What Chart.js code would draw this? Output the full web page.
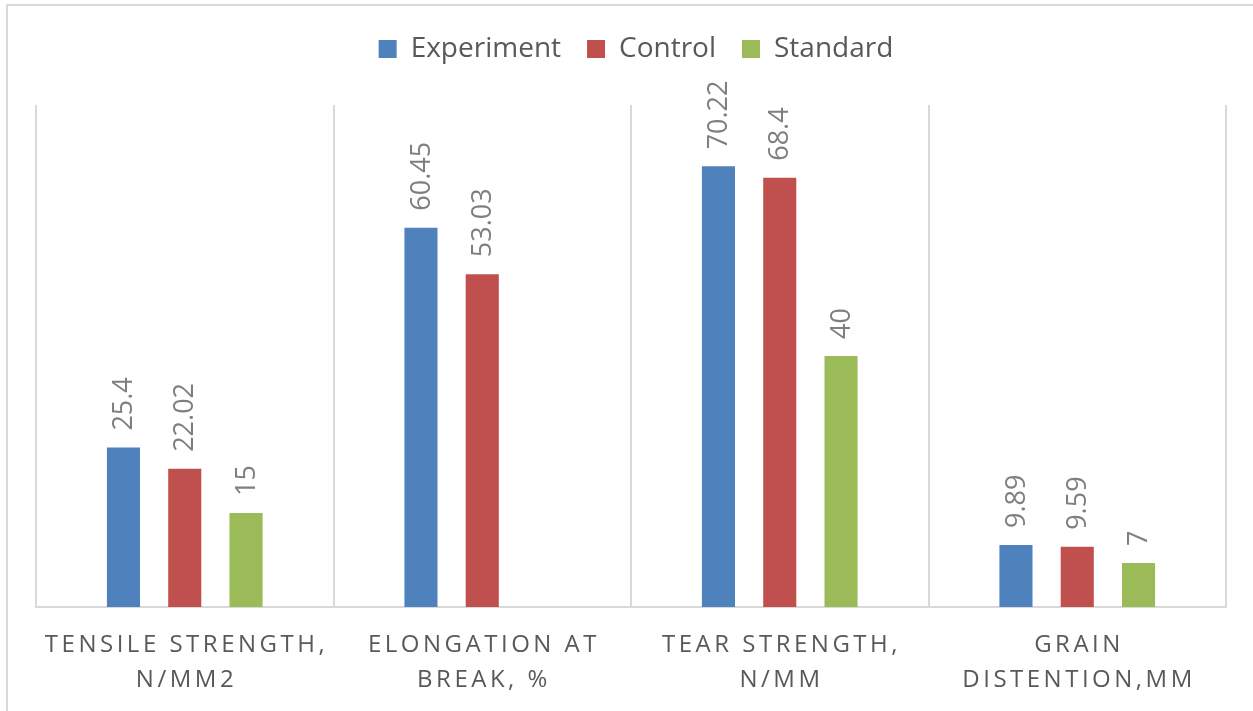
<!DOCTYPE html>
<html>
<head>
<meta charset="utf-8">
<script src="https://cdn.jsdelivr.net/npm/chart.js@4.4.0/dist/chart.umd.min.js"></script>
<style>
  html, body { margin: 0; padding: 0; background: #ffffff; }
  #wrap { width: 1253px; height: 711px; position: relative; }
</style>
</head>
<body>
<div id="wrap"><canvas id="c" width="1253" height="711"></canvas></div>
<script>
const categories = [
  ["TENSILE STRENGTH,", "N/MM2"],
  ["ELONGATION AT", "BREAK, %"],
  ["TEAR STRENGTH,", "N/MM"],
  ["GRAIN", "DISTENTION,MM"]
];
const seriesNames = ["Experiment", "Control", "Standard"];
const experiment = [25.4, 60.45, 70.22, 9.89];
const control = [22.02, 53.03, 68.4, 9.59];
const standard = [15, null, 40, 7];
const yMin = 0;
const yMax = 80;

const colors = ["#4f81bd", "#c0504d", "#9bbb59"];
const FONT = "'Open Sans', 'Liberation Sans', sans-serif";

const frame = {
  id: 'frame',
  beforeDraw(chart) {
    const ctx = chart.ctx;
    ctx.save();
    ctx.fillStyle = '#ffffff';
    ctx.fillRect(0, 0, chart.width, chart.height);
    ctx.strokeStyle = '#d9d9d9';
    ctx.lineWidth = 2;
    ctx.strokeRect(7, 5, chart.width + 20, chart.height + 20);
    ctx.restore();
  }
};

const legendTweak = {
  id: 'legendTweak',
  afterInit(chart) {
    const lg = chart.legend;
    if (!lg) return;
    const origFit = lg.fit.bind(lg);
    lg.fit = function () { origFit(); this.height += 32; };
    const origDraw = lg.draw.bind(lg);
    lg.draw = function () {
      const ctx = chart.ctx;
      ctx.save();
      ctx.translate(5, 0);
      origDraw();
      ctx.restore();
    };
  }
};

const dataLabels = {
  id: 'dataLabels',
  afterDatasetsDraw(chart) {
    const ctx = chart.ctx;
    ctx.save();
    ctx.fillStyle = '#7f7f7f';
    ctx.font = "27px " + FONT;
    ctx.textAlign = 'left';
    ctx.textBaseline = 'middle';
    chart.data.datasets.forEach((ds, di) => {
      const meta = chart.getDatasetMeta(di);
      meta.data.forEach((el, i) => {
        const v = ds.data[i];
        if (v === null || v === undefined) return;
        ctx.save();
        ctx.translate(el.x, el.y - 17);
        ctx.rotate(-Math.PI / 2);
        ctx.fillText(String(v), 0, 1);
        ctx.restore();
      });
    });
    ctx.restore();
  }
};

const xLabels = {
  id: 'xLabels',
  afterDraw(chart) {
    const ctx = chart.ctx;
    const xs = chart.scales.x;
    const bottom = chart.chartArea.bottom;
    ctx.save();
    ctx.fillStyle = '#595959';
    ctx.font = "24px " + FONT;
    ctx.letterSpacing = '3.5px';
    ctx.textAlign = 'center';
    ctx.textBaseline = 'middle';
    categories.forEach((lines, i) => {
      const x = xs.getPixelForValue(i);
      lines.forEach((t, j) => {
        ctx.fillText(t, x + 1.75, bottom + 38 + j * 35);
      });
    });
    ctx.restore();
  }
};

new Chart(document.getElementById('c'), {
  type: 'bar',
  data: {
    labels: categories.map(c => c.join(' ')),
    datasets: [
      { label: seriesNames[0], data: experiment, backgroundColor: colors[0] },
      { label: seriesNames[1], data: control, backgroundColor: colors[1] },
      { label: seriesNames[2], data: standard, backgroundColor: colors[2] }
    ]
  },
  options: {
    responsive: false,
    animation: false,
    devicePixelRatio: 1,
    layout: { padding: { left: 36, right: 27, top: 9, bottom: 104 } },
    datasets: { bar: { categoryPercentage: 0.618, barPercentage: 0.54 } },
    plugins: {
      legend: {
        position: 'top',
        labels: {
          boxWidth: 18, boxHeight: 18, padding: 26,
          color: '#595959',
          font: { family: FONT, size: 28 }
        }
      },
      tooltip: { enabled: false }
    },
    scales: {
      x: {
        grid: { display: true, offset: true, color: '#d9d9d9', lineWidth: 2, drawTicks: false },
        border: { display: true, color: '#d9d9d9', width: 2 },
        ticks: { display: false }
      },
      y: {
        display: false,
        min: yMin, max: yMax
      }
    }
  },
  plugins: [frame, legendTweak, dataLabels, xLabels]
});
</script>
</body>
</html>
